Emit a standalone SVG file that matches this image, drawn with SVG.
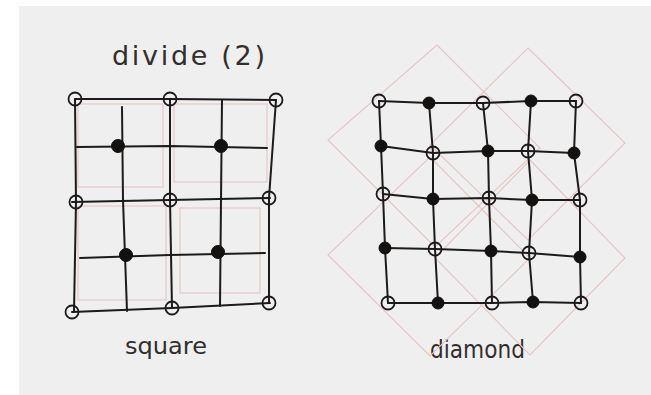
<svg xmlns="http://www.w3.org/2000/svg" width="651" height="395" viewBox="0 0 651 395">
<style>
.ln{fill:none;stroke:#1c1a1a;stroke-width:2;stroke-linecap:round;stroke-linejoin:round}
.pk{fill:none;stroke:#e6c4c4;stroke-width:1.1}
.o{fill:none;stroke:#1c1a1a;stroke-width:1.8}
.f{fill:#141111;stroke:#141111;stroke-width:1}
.t{font-family:"DejaVu Sans","Liberation Sans",sans-serif;fill:#332e2e}
</style>
<rect x="0" y="0" width="651" height="395" fill="#ffffff"/>
<rect x="19" y="6" width="632" height="389" fill="#efefef"/>

<text class="t" x="112" y="65" font-size="27" textLength="153" lengthAdjust="spacing">divide (2)</text>
<text class="t" x="125" y="354" font-size="23" textLength="82" lengthAdjust="spacingAndGlyphs">square</text>
<text class="t" x="430" y="358" font-size="24" textLength="95" lengthAdjust="spacingAndGlyphs">diamond</text>

<g id="square-guides">
<rect class="pk" x="78" y="104" width="85" height="83"/>
<rect class="pk" x="174" y="104" width="93" height="78"/>
<rect class="pk" x="78" y="206" width="88" height="94"/>
<rect class="pk" x="180" y="208" width="80" height="85"/>
</g>

<g id="diamond-guides">
<polygon class="pk" points="437,45 540,148 435,247 328,140"/>
<polygon class="pk" points="528,48 625,143 528,240 430,145"/>
<polygon class="pk" points="430,157 530,258 430,356 328,255"/>
<polygon class="pk" points="530,160 625,258 530,355 435,258"/>
</g>

<g id="connectors">
<polyline class="ln" points="75,99 170,99 276,100"/>
<polyline class="ln" points="77,147 170,146 267,148"/>
<polyline class="ln" points="72,202 170,200 270,198"/>
<polyline class="ln" points="80,258 170,255 265,253"/>
<polyline class="ln" points="72,312 172,308 270,303"/>
<polyline class="ln" points="75,99 76,202 74,312"/>
<polyline class="ln" points="122,107 123,200 127,311"/>
<polyline class="ln" points="170,99 170,200 172,308"/>
<polyline class="ln" points="222,100 221,200 220,306"/>
<polyline class="ln" points="276,100 269,198 269,303"/>
<polyline class="ln" points="379,101 429,103 483,103 531,101 576,101"/>
<polyline class="ln" points="381,146 433,153 488,151 528,151 574,153"/>
<polyline class="ln" points="383,194 433,199 489,198 532,200 580,200"/>
<polyline class="ln" points="385,248 435,249 491,251 529,253 580,257"/>
<polyline class="ln" points="388,303 438,303 492,303 533,302 581,303"/>
<polyline class="ln" points="379,101 381,146 383,194 385,248 388,303"/>
<polyline class="ln" points="429,103 433,153 433,199 435,249 438,303"/>
<polyline class="ln" points="483,103 488,151 489,198 491,251 492,303"/>
<polyline class="ln" points="531,101 528,151 532,200 529,253 533,302"/>
<polyline class="ln" points="576,101 574,153 580,200 580,257 581,303"/>
</g>

<g id="square-nodes">
<circle class="o" cx="75" cy="99" r="6.5"/>
<circle class="o" cx="170" cy="99" r="6.5"/>
<circle class="o" cx="276" cy="100" r="6.5"/>
<circle class="o" cx="76" cy="202" r="6.5"/>
<circle class="o" cx="170" cy="200" r="6.5"/>
<circle class="o" cx="269" cy="198" r="6.5"/>
<circle class="o" cx="72" cy="312" r="6.5"/>
<circle class="o" cx="172" cy="308" r="6.5"/>
<circle class="o" cx="269" cy="303" r="6.5"/>
<circle class="f" cx="118" cy="146" r="6.5"/>
<circle class="f" cx="221" cy="146" r="6.5"/>
<circle class="f" cx="126" cy="255" r="6.5"/>
<circle class="f" cx="218" cy="252" r="6.5"/>
</g>

<g id="diamond-nodes">
<circle class="o" cx="379" cy="101" r="6.5"/>
<circle class="f" cx="429" cy="103" r="6"/>
<circle class="o" cx="483" cy="103" r="6.5"/>
<circle class="f" cx="531" cy="101" r="6"/>
<circle class="o" cx="576" cy="101" r="6.5"/>
<circle class="f" cx="381" cy="146" r="6"/>
<circle class="o" cx="433" cy="153" r="6.5"/>
<circle class="f" cx="488" cy="151" r="6"/>
<circle class="o" cx="528" cy="151" r="6.5"/>
<circle class="f" cx="574" cy="153" r="6"/>
<circle class="o" cx="383" cy="194" r="6.5"/>
<circle class="f" cx="433" cy="199" r="6"/>
<circle class="o" cx="489" cy="198" r="6.5"/>
<circle class="f" cx="532" cy="200" r="6"/>
<circle class="o" cx="580" cy="200" r="6.5"/>
<circle class="f" cx="385" cy="248" r="6"/>
<circle class="o" cx="435" cy="249" r="6.5"/>
<circle class="f" cx="491" cy="251" r="6"/>
<circle class="o" cx="529" cy="253" r="6.5"/>
<circle class="f" cx="580" cy="257" r="6"/>
<circle class="o" cx="388" cy="303" r="6.5"/>
<circle class="f" cx="438" cy="303" r="6"/>
<circle class="o" cx="492" cy="303" r="6.5"/>
<circle class="f" cx="533" cy="302" r="6"/>
<circle class="o" cx="581" cy="303" r="6.5"/>
</g>
</svg>
